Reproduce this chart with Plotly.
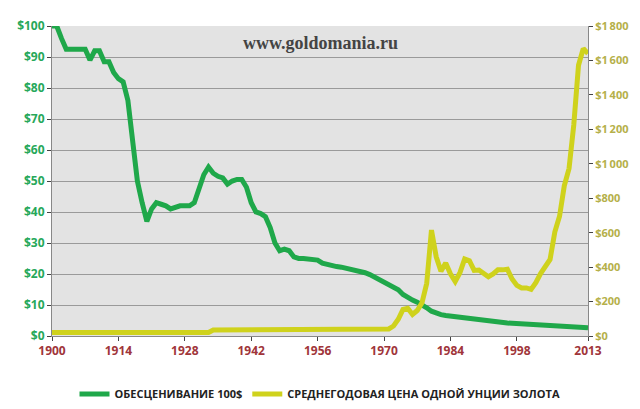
import plotly.graph_objects as go

years = list(range(1900, 2014))
green_vals = [100,100,96,92.5,92.5,92.5,92.5,92.5,89,92,92,88.5,88.5,85,83,82,76,64,50,43,37,41,43,42.5,42,41,41.5,42,42,42,43,47,52,54.5,52.5,51.5,51,49,50,50.5,50.5,48,43,40,39.5,38.5,35,30,27.5,28,27.5,25.5,25,25,24.8,24.8,24.5,23.5,23,22.7,22.4,22.2,21.9,21.6,21.3,21,20.4,19.8,19,18,17,16.3,15.8,14.9,13.4,12.3,11.6,10.9,10.1,9.1,8.0,7.3,6.9,6.6,6.4,6.1,6.0,5.8,5.6,5.3,5.0,4.8,4.7,4.5,4.4,4.3,4.2,4.1,4.0,3.9,3.8,3.7,3.6,3.5,3.4,3.3,3.2,3.1,3.0,3.0,2.9,2.8,2.8,2.7]
gold_vals = [20.67]*34 + [35,35,35,35,35,35,35,35,35,35,35,35,35,35,35,35,35,35,35,35,35,38,36,36,35,35,35,35,35,35,35,35,35,35,39,41,36,41,58,97,154,161,125,148,193,306,615,460,376,424,361,317,368,447,437,381,383,362,344,360,384,384,388,331,294,279,279,271,310,363,409,444,603,695,872,972,1225,1572,1669,1640]
x_ticks = [1900,1914,1928,1942,1956,1970,1984,1998,2013]
left_ticks = list(range(0, 101, 10))
right_ticks = list(range(0, 1801, 200))

def fmt_r(v):
    return "$" + (f"{v:,}".replace(",", "\u2009"))

fig = go.Figure()
fig.add_trace(go.Scatter(x=years, y=green_vals, mode="lines", name="ОБЕСЦЕНИВАНИЕ 100$",
                         line=dict(color="#1fa84a", width=5)))
fig.add_trace(go.Scatter(x=years, y=gold_vals, mode="lines", name="СРЕДНЕГОДОВАЯ ЦЕНА ОДНОЙ УНЦИИ ЗОЛОТА",
                         line=dict(color="#cfd21c", width=5), yaxis="y2"))

tf = dict(family="Open Sans", size=12, weight="bold")
fig.update_layout(
    width=640, height=409, margin=dict(l=42, r=60, t=9, b=58),
    paper_bgcolor="white", plot_bgcolor="#e3e3e3",
    font=dict(family="Open Sans", size=12),
    xaxis=dict(range=[1900, 2013], tickvals=x_ticks, showgrid=False, zeroline=False,
               tickfont=dict(tf, color="#a0353a"),
               ticks="outside", ticklen=4, showline=True, linecolor="#888"),
    yaxis=dict(range=[0, 100], tickvals=left_ticks, ticktext=[f"${v}" for v in left_ticks],
               gridcolor="#9a9a9a", gridwidth=1, zeroline=False, showline=True, linecolor="#888",
               ticks="outside", ticklen=4, tickfont=dict(tf, color="#27a85a")),
    yaxis2=dict(range=[0, 1800], tickvals=right_ticks, ticktext=[fmt_r(v) for v in right_ticks],
                overlaying="y", side="right", showgrid=False, zeroline=False, showline=True,
                linecolor="#888", ticks="outside", ticklen=4,
                tickfont=dict(family="Open Sans", size=11, weight="bold", color="#b5b04a")),
    legend=dict(orientation="h", x=0.5, xanchor="center", y=-0.14, yanchor="top",
                font=dict(family="Open Sans", size=11, color="#222", weight="bold"),
                bgcolor="rgba(0,0,0,0)"),
    annotations=[dict(text="<b>www.goldomania.ru</b>", x=0.5, y=0.985, xref="paper", yref="paper",
                      xanchor="center", yanchor="top", showarrow=False,
                      font=dict(family="Liberation Serif", size=18, color="#444"))],
)
fig.write_html("out.html")
